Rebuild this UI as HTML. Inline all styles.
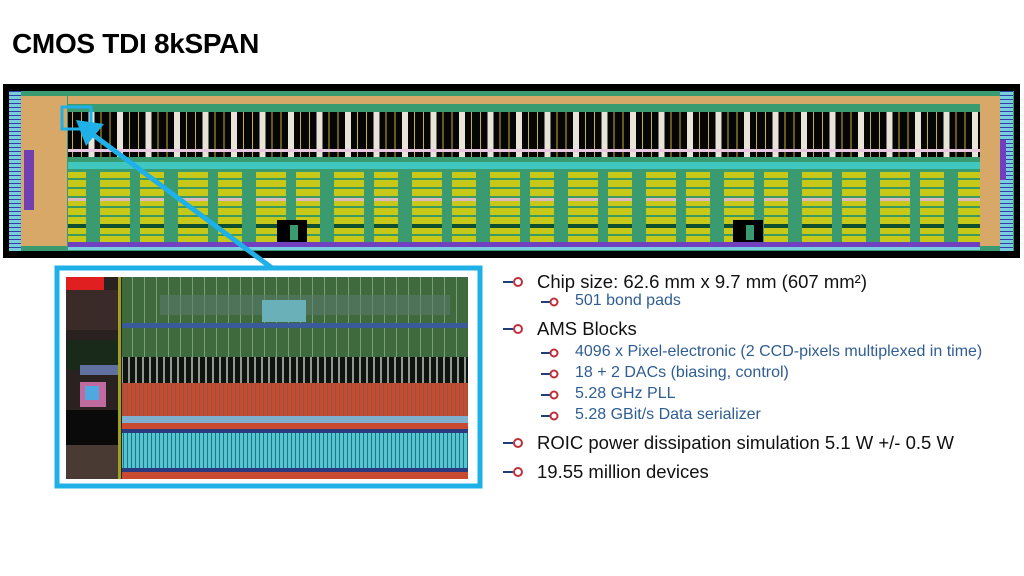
<!DOCTYPE html>
<html><head><meta charset="utf-8"><style>
body{margin:0;width:1024px;height:576px;background:#fff;position:relative;overflow:hidden;font-family:"Liberation Sans",sans-serif}
.t{position:absolute;white-space:nowrap}
.b{position:absolute;font-size:18.5px;color:#111;white-space:nowrap}
.s{position:absolute;font-size:16px;color:#2f5d93;white-space:nowrap}
</style></head><body>
<div class="t" style="left:12px;top:28px;font-size:28px;font-weight:bold;color:#000;letter-spacing:-0.3px">CMOS TDI 8kSPAN</div>
<svg width="1024" height="576" style="position:absolute;left:0;top:0">
<defs>
<pattern id="cols" x="0" y="0" width="28.5" height="50" patternUnits="userSpaceOnUse">
<rect x="0" y="0" width="28.5" height="50" fill="#050505"/>
<rect x="3" y="0" width="6" height="50" fill="#e8e4d8"/>
<rect x="15" y="0" width="1" height="50" fill="#c8b030"/>
<rect x="24" y="0" width="1" height="50" fill="#c8b030"/>
</pattern>
<pattern id="yel" x="0" y="172" width="78" height="70" patternUnits="userSpaceOnUse">
<rect width="78" height="70" fill="#c8c818"/>
<rect y="6" width="78" height="2" fill="#3a9a60"/>
<rect y="15" width="78" height="2" fill="#3a9a60"/>
<rect y="24" width="78" height="2" fill="#3a9a60"/>
<rect y="26" width="78" height="3" fill="#e0b8c0"/>
<rect y="34" width="78" height="2" fill="#3a9a60"/>
<rect y="43" width="78" height="2" fill="#3a9a60"/>
<rect y="52" width="78" height="4" fill="#0e5030"/>
<rect y="62" width="78" height="2" fill="#3a9a60"/>
<rect x="8" width="14" height="70" fill="#3a9a70"/>
<rect x="52" width="10" height="70" fill="#3a9a70"/>
</pattern>
<pattern id="grn" width="12" height="80" patternUnits="userSpaceOnUse">
<rect width="12" height="80" fill="#3e6a3e"/><rect x="0" width="1" height="80" fill="#7aa07a"/>
</pattern>
<pattern id="blk" width="7" height="26" patternUnits="userSpaceOnUse">
<rect width="7" height="26" fill="#101410"/><rect x="2" width="2" height="26" fill="#909890"/>
</pattern>
<pattern id="red" width="4" height="40" patternUnits="userSpaceOnUse">
<rect width="4" height="40" fill="#c84a30"/><rect x="3" width="1" height="40" fill="#8a5a40"/>
</pattern>
<pattern id="cy" width="4" height="40" patternUnits="userSpaceOnUse">
<rect width="4" height="40" fill="#50c8c8"/><rect x="3" width="1" height="40" fill="#2a6a9a"/>
</pattern>
<pattern id="pad" width="4" height="4" patternUnits="userSpaceOnUse">
<rect width="4" height="4" fill="#7acce0"/><rect y="3" width="4" height="1" fill="#3040a0"/>
</pattern>
</defs>
<rect x="3" y="84" width="1017" height="174" fill="#000"/>
<rect x="9" y="91" width="1005" height="160" fill="#3a9a70"/>
<rect x="9" y="91" width="12" height="160" fill="url(#pad)"/>
<rect x="21" y="96" width="46" height="150" fill="#d8a868"/>
<rect x="24" y="150" width="10" height="60" fill="#7040b0"/>
<rect x="68" y="96" width="912" height="8" fill="#d8a868"/>
<rect x="68" y="104" width="912" height="8" fill="#3a9a70"/>
<rect x="68" y="112" width="912" height="45" fill="url(#cols)"/>
<rect x="68" y="149" width="912" height="3" fill="#e8c8e0"/>
<rect x="68" y="162" width="912" height="7" fill="#40c8c0"/>
<rect x="68" y="172" width="912" height="70" fill="url(#yel)"/>
<rect x="68" y="242" width="912" height="5" fill="#7040c0"/>
<rect x="68" y="247" width="912" height="3" fill="#7acce0"/>
<rect x="980" y="96" width="20" height="150" fill="#d8a868"/>
<rect x="1000" y="91" width="13" height="160" fill="url(#pad)"/>
<rect x="1000" y="140" width="6" height="40" fill="#7040c0"/>
<rect x="277" y="220" width="30" height="22" fill="#000"/>
<rect x="290" y="225" width="8" height="15" fill="#3a9a70"/>
<rect x="733" y="220" width="30" height="22" fill="#000"/>
<rect x="746" y="225" width="8" height="15" fill="#3a9a70"/>
<rect x="62" y="107" width="29" height="22" fill="none" stroke="#1eb0e6" stroke-width="3"/>
<line x1="272" y1="268" x2="88" y2="131" stroke="#1eb0e6" stroke-width="5"/>
<polygon points="76,120 104,124 86,146" fill="#1eb0e6"/>
<rect x="57" y="268" width="423" height="218" fill="none" stroke="#1eb0e6" stroke-width="5"/>
<rect x="66" y="277" width="402" height="202" fill="#2a2220"/>
<rect x="66" y="277" width="38" height="13" fill="#e02020"/>
<rect x="66" y="290" width="52" height="40" fill="#3a2a28"/>
<rect x="66" y="340" width="52" height="30" fill="#1a2a1a"/>
<rect x="80" y="365" width="38" height="10" fill="#6070a0"/>
<rect x="80" y="382" width="26" height="25" fill="#c06aa0"/>
<rect x="85" y="386" width="14" height="14" fill="#50a8e0"/>
<rect x="66" y="410" width="52" height="35" fill="#0a0a0a"/>
<rect x="66" y="445" width="52" height="34" fill="#4a3a34"/>
<rect x="118" y="277" width="3" height="202" fill="#a0a020"/>
<rect x="122" y="277" width="346" height="80" fill="url(#grn)"/>
<rect x="160" y="295" width="290" height="20" fill="#5a7a6a" opacity="0.6"/>
<rect x="262" y="300" width="44" height="22" fill="#6ab0b8"/>
<rect x="122" y="323" width="346" height="5" fill="#3a5a9a"/>
<rect x="122" y="357" width="346" height="26" fill="url(#blk)"/>
<rect x="122" y="383" width="346" height="33" fill="url(#red)"/>
<rect x="122" y="416" width="346" height="7" fill="#80b0d0"/>
<rect x="122" y="423" width="346" height="6" fill="#c84a30"/>
<rect x="122" y="429" width="346" height="4" fill="#2a3a80"/>
<rect x="122" y="433" width="346" height="35" fill="url(#cy)"/>
<rect x="122" y="468" width="346" height="4" fill="#2a3a80"/>
<rect x="122" y="472" width="346" height="7" fill="#c84a30"/>
<g stroke-width="2" fill="none">
<g transform="translate(503,282)"><line x1="0" y1="0" x2="10" y2="0" stroke="#1f3f7a"/><circle cx="15" cy="0" r="4" stroke="#c0303a"/></g>
<g transform="translate(541,302)"><line x1="0" y1="0" x2="9" y2="0" stroke="#1f3f7a"/><circle cx="13" cy="0" r="3.5" stroke="#c0303a"/></g>
<g transform="translate(503,329)"><line x1="0" y1="0" x2="10" y2="0" stroke="#1f3f7a"/><circle cx="15" cy="0" r="4" stroke="#c0303a"/></g>
<g transform="translate(541,353)"><line x1="0" y1="0" x2="9" y2="0" stroke="#1f3f7a"/><circle cx="13" cy="0" r="3.5" stroke="#c0303a"/></g>
<g transform="translate(541,374)"><line x1="0" y1="0" x2="9" y2="0" stroke="#1f3f7a"/><circle cx="13" cy="0" r="3.5" stroke="#c0303a"/></g>
<g transform="translate(541,395)"><line x1="0" y1="0" x2="9" y2="0" stroke="#1f3f7a"/><circle cx="13" cy="0" r="3.5" stroke="#c0303a"/></g>
<g transform="translate(541,416)"><line x1="0" y1="0" x2="9" y2="0" stroke="#1f3f7a"/><circle cx="13" cy="0" r="3.5" stroke="#c0303a"/></g>
<g transform="translate(503,443)"><line x1="0" y1="0" x2="10" y2="0" stroke="#1f3f7a"/><circle cx="15" cy="0" r="4" stroke="#c0303a"/></g>
<g transform="translate(503,472)"><line x1="0" y1="0" x2="10" y2="0" stroke="#1f3f7a"/><circle cx="15" cy="0" r="4" stroke="#c0303a"/></g>
</g>
</svg>
<div class="b" style="left:537px;top:271px">Chip size: 62.6 mm x 9.7 mm (607 mm²)</div>
<div class="s" style="left:575px;top:292px">501 bond pads</div>
<div class="b" style="left:537px;top:318px">AMS Blocks</div>
<div class="s" style="left:575px;top:343px">4096 x Pixel-electronic (2 CCD-pixels multiplexed in time)</div>
<div class="s" style="left:575px;top:364px">18 + 2 DACs (biasing, control)</div>
<div class="s" style="left:575px;top:385px">5.28 GHz PLL</div>
<div class="s" style="left:575px;top:406px">5.28 GBit/s Data serializer</div>
<div class="b" style="left:537px;top:432px">ROIC power dissipation simulation 5.1 W +/- 0.5 W</div>
<div class="b" style="left:537px;top:461px">19.55 million devices</div>
</body></html>
